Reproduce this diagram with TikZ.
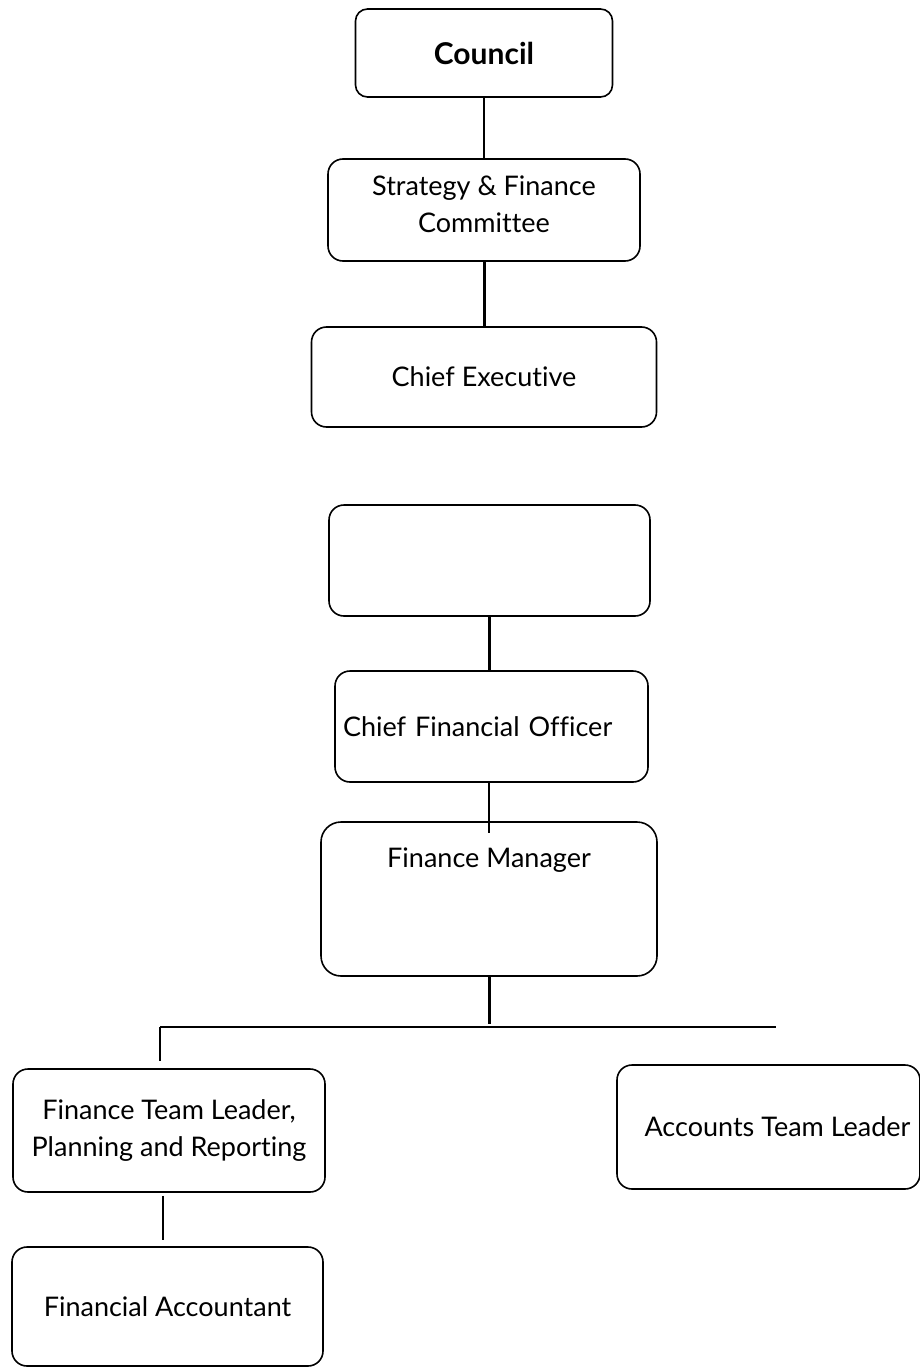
\documentclass[tikz,border=0pt]{standalone}
\usepackage{fontspec}
\setmainfont{Lato}[Ligatures=NoCommon]

\begin{document}
\begin{tikzpicture}[x=1pt, y=-1pt, line width=1.6pt,
    box/.style = {draw, rounded corners=15pt, align=center, inner sep=6pt,
                  font=\fontsize{27}{37}\selectfont},
    thin link/.style = {line width=1.4pt},
    link/.style = {line width=2pt},
    thick link/.style = {line width=3pt}]
    \useasboundingbox (0,0) rectangle (920,1367);

    \node[box, minimum width=257pt, minimum height=88pt, rounded corners=12pt,
          font=\fontsize{30}{37}\selectfont] (council) at (484,53)  {\textbf{Council}};
    \node[box, minimum width=312pt, minimum height=102pt] (strategy) at (484,210) {Strategy \& Finance\\Committee\\[-25pt]};
    \node[box, minimum width=345pt, minimum height=100pt] (ce)       at (484,377) {Chief Executive};
    \node[box, minimum width=321pt, minimum height=111pt] (blank)    at (489.5,560.5) {};
    \node[box, text width=297pt, align=left, inner xsep=8pt, minimum height=111pt] (cfo) at (491.5,726.5) {Chief Financial Officer};
    \node[box, minimum width=336pt, minimum height=154pt, rounded corners=20pt,
          label={[anchor=north, font=\fontsize{27}{37}\selectfont, yshift=-22pt]north:Finance Manager}] (fm) at (489,899) {};
    \node[box, minimum width=312pt, minimum height=123pt] (tl)  at (169,1130.5) {Finance Team Leader,\\Planning and Reporting};
    \node[box, minimum width=303pt, minimum height=124pt] (atl) at (768.5,1127) {\hspace*{18pt}Accounts Team Leader};
    \node[box, minimum width=311pt, minimum height=119pt] (fa)  at (167.5,1306.5) {Financial Accountant};

    % bar under the finance manager
    \coordinate (barL)  at (160,1027);
    \coordinate (barR)  at (776,1027);
    \coordinate (dropL) at (160,1061);

    \draw[link] (council) -- (strategy);
    \draw[thick link] (strategy) -- (ce);
    \draw[thick link] (blank.south) -- (blank.south |- cfo.north);
    \draw[thin link] (cfo.south -| fm.north) -- ([yshift=-12pt]fm.north);
    \draw[thick link] (fm.south) -- ([yshift=3pt]fm.south |- barL);
    \draw[link] (barL) -- (barR);
    \draw[thin link] (barL) -- (dropL);
    \draw[link] ([xshift=-6pt, yshift=-3pt]tl.south) -- ([xshift=-6pt, yshift=6pt]tl.south |- fa.north);
\end{tikzpicture}
\end{document}
